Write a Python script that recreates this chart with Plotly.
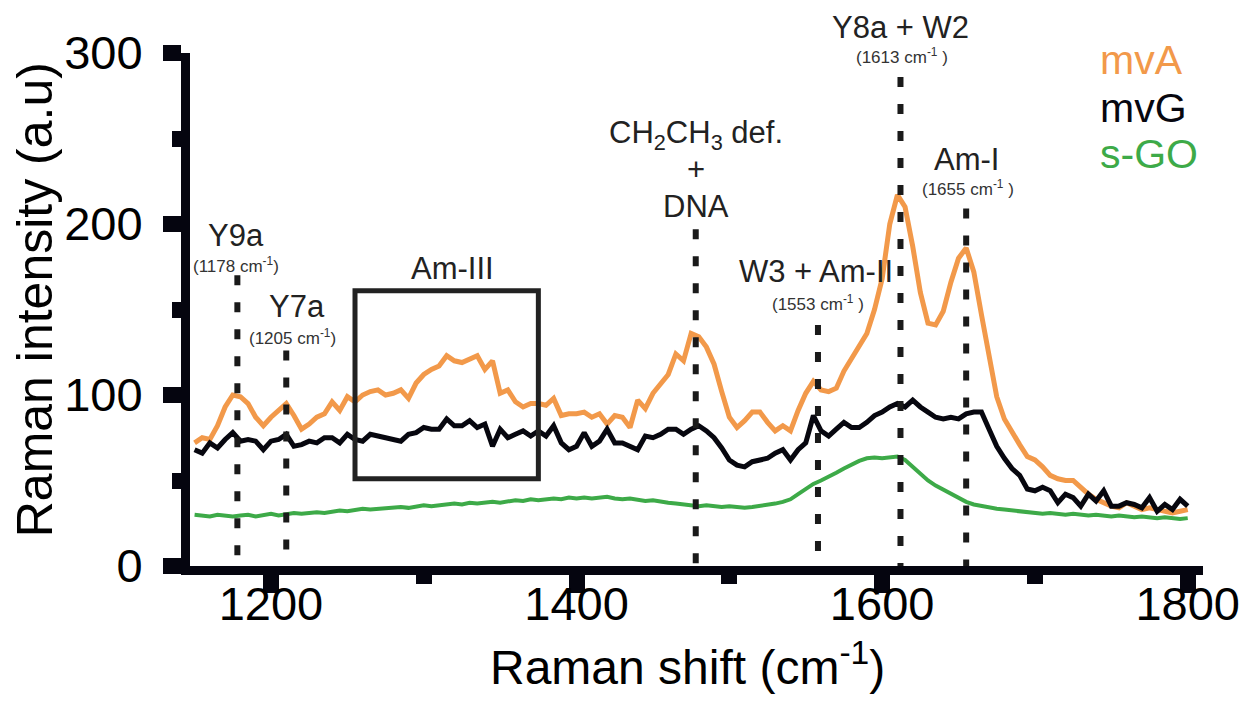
import plotly.graph_objects as go

# ---------------- data ----------------
shift = list(range(1150, 1801, 5))

mvA = [72, 75, 74, 82, 93, 100, 99, 95, 87, 82,
       87, 91, 95, 88, 80, 83, 87, 89, 96, 91,
       99, 96, 100, 102, 103, 100, 101, 103, 98, 107,
       112, 115, 117, 123, 120, 119, 121, 123, 115, 120,
       101, 103, 96, 93, 95, 95, 94, 98, 88, 89,
       89, 90, 87, 89, 83, 88, 87, 81, 97, 92,
       101, 106, 112, 124, 120, 136, 134, 128, 118, 102,
       87, 81, 85, 90, 90, 84, 79, 82, 79, 91,
       101, 108, 103, 102, 104, 114, 121, 128, 136, 150,
       168, 200, 217, 210, 187, 160, 142, 141, 149, 166,
       180, 186, 172, 147, 121, 99, 86, 78, 71, 64,
       62, 58, 53, 51, 50, 50, 46, 42, 39, 37,
       35, 34, 37, 35, 33, 34, 33, 32, 31, 32, 33]

mvG = [68, 66, 72, 69, 74, 78, 73, 74, 73, 68,
       73, 74, 77, 70, 71, 73, 72, 75, 75, 72,
       77, 74, 73, 77, 76, 75, 74, 73, 77, 78,
       81, 80, 80, 86, 82, 82, 85, 81, 83, 70,
       80, 75, 77, 79, 76, 79, 76, 82, 72, 68,
       70, 78, 70, 73, 80, 72, 72, 70, 68, 76,
       75, 77, 80, 80, 77, 80, 82, 79, 75, 69,
       62, 59, 58, 61, 62, 63, 66, 68, 62, 68,
       72, 88, 79, 76, 80, 84, 81, 81, 84, 88,
       90, 93, 95, 93, 97, 93, 90, 87, 86, 87,
       86, 89, 90, 90, 80, 70, 63, 57, 53, 45,
       44, 46, 44, 37, 42, 40, 35, 42, 38, 44,
       35, 35, 37, 36, 34, 40, 32, 36, 33, 39, 35]

sGO = [30, 29.5, 29, 30, 29.5, 29, 29.5, 30, 29, 29.5,
       30.5, 29.5, 30.5, 31, 30.5, 31, 31.5, 31, 32, 32.5,
       32, 33, 33.5, 33, 33.5, 34, 34, 34.5, 34, 35,
       35.5, 35, 35.5, 36, 36.5, 36, 37, 36.5, 37, 37.5,
       37, 38, 38.5, 38, 39, 38.5, 39, 39.5, 39, 40,
       39.5, 40, 39.5, 40, 40.5, 39.5, 39, 39.5, 38.5, 38,
       38.5, 37.5, 37, 36.5, 36, 35.5, 35, 35.5, 35, 34.5,
       35, 34.5, 34, 34.5, 35, 35.5, 36.5, 37.5, 39, 42,
       45, 48, 50, 52, 54.5, 57, 59.5, 61.5, 63, 63.5,
       63, 63.5, 64, 62, 58, 54, 50, 47, 44.5, 42,
       39.5, 37.5, 36, 35, 34, 33.5, 33, 32.5, 31.5, 31,
       31, 30.5, 31, 30.5, 30, 30.5, 30, 29.5, 30, 29.5,
       29, 29.5, 29, 28.5, 29, 28.5, 28, 28.5, 28, 27.5, 28]

series_names = ["mvA", "mvG", "s-GO"]
series_colors = ["#F2994A", "#07070F", "#3DAA48"]

# marker (dashed) lines: position and top of the dashed line
marker_pos = [1178, 1210, 1478, 1558, 1612, 1655]
marker_top = [170, 126, 197, 141, 286, 209]

# peak labels: text, x, y, and the wavenumber sub-label with its x, y
peak_labels = ["Y9a", "Y7a", "W3 + Am-II", "Y8a + W2", "Am-I"]
peak_label_x = [1177, 1217, 1557, 1612, 1655]
peak_label_y = [193, 152, 172, 315, 238]
peak_sub = ["(1178 cm<sup>-1</sup>)", "(1205 cm<sup>-1</sup>)", "(1553 cm<sup>-1</sup> )",
            "(1613 cm<sup>-1</sup> )", "(1655 cm<sup>-1</sup> )"]
peak_sub_x = [1177, 1214, 1558, 1613, 1656]
peak_sub_y = [176, 134, 154, 298, 221]

dna_lines = ["CH<sub>2</sub>CH<sub>3</sub> def.", "+", "DNA"]
dna_x = 1478
dna_y = [252, 232, 210]

box_x = [1255, 1375]
box_y = [51, 161]
box_label = "Am-III"
box_label_x = 1319
box_label_y = 174

legend_x = 1741
legend_y = [296, 268, 241]

x_range = [1147, 1810]
y_range = [0, 300]

FONT = "Liberation Sans, Arial, Helvetica, sans-serif"


def py(v):
    """intensity value -> paper fraction (so labels above the top stay visible)"""
    return (v - y_range[0]) / (y_range[1] - y_range[0])


fig = go.Figure()
for name, ys, col, w in zip(series_names, [mvA, mvG, sGO], series_colors, [5, 5, 4]):
    fig.add_trace(go.Scatter(x=shift, y=ys, mode="lines", name=name,
                             line=dict(color=col, width=w), showlegend=False))

for xp, top in zip(marker_pos, marker_top):
    fig.add_trace(go.Scatter(x=[xp, xp], y=[top, 0], mode="lines", showlegend=False,
                             cliponaxis=False,
                             line=dict(color="#1a1a1a", width=6, dash="10px,17px")))

fig.add_shape(type="rect", x0=box_x[0], x1=box_x[1], y0=box_y[0], y1=box_y[1],
              xref="x", yref="y", line=dict(color="#222222", width=5))

ann = []
for t, xx, yy, s, sx, sy in zip(peak_labels, peak_label_x, peak_label_y, peak_sub,
                                peak_sub_x, peak_sub_y):
    ann.append(dict(x=xx, y=py(yy), text=t, showarrow=False, xref="x", yref="paper",
                    xanchor="center", yanchor="middle",
                    font=dict(family=FONT, size=31, color="#222222")))
    ann.append(dict(x=sx, y=py(sy), text=s, showarrow=False, xref="x", yref="paper",
                    xanchor="center", yanchor="middle",
                    font=dict(family=FONT, size=17, color="#333333")))
for t, yy in zip(dna_lines, dna_y):
    ann.append(dict(x=dna_x, y=py(yy), text=t, showarrow=False, xref="x", yref="paper",
                    xanchor="center", yanchor="middle",
                    font=dict(family=FONT, size=31, color="#222222")))
ann.append(dict(x=box_label_x, y=py(box_label_y), text=box_label, showarrow=False,
                xref="x", yref="paper", xanchor="center", yanchor="middle",
                font=dict(family=FONT, size=31, color="#222222")))

# legend as coloured text
for name, col, yy in zip(series_names, series_colors, legend_y):
    ann.append(dict(x=legend_x, y=py(yy), text=name, showarrow=False, xref="x", yref="paper",
                    xanchor="left", yanchor="middle",
                    font=dict(family=FONT, size=41, color=col)))

# axis titles
ann.append(dict(x=-0.1530, y=0.518, xref="paper", yref="paper", text="Raman intensity (a.u)",
                textangle=-90, showarrow=False, xanchor="center", yanchor="middle",
                font=dict(family=FONT, size=50, color="black")))
ann.append(dict(x=0.491, y=-0.192, xref="paper", yref="paper", text="Raman shift (cm<sup>-1</sup>)",
                showarrow=False, xanchor="center", yanchor="middle",
                font=dict(family=FONT, size=48, color="black")))
fig.update_layout(annotations=ann)

fig.update_xaxes(range=x_range, showgrid=False, zeroline=False, automargin=False,
                 showline=True, linewidth=9, linecolor="#05050F",
                 ticks="outside", tick0=1200, dtick=200, ticklen=18, tickwidth=16,
                 tickcolor="#05050F", ticklabelstandoff=-29,
                 minor=dict(ticks="outside", tick0=1200, dtick=100, ticklen=9, tickwidth=16,
                            tickcolor="#05050F"),
                 tickfont=dict(family=FONT, size=47, color="black"))
fig.update_yaxes(range=y_range, showgrid=False, zeroline=False, automargin=False,
                 showline=True, linewidth=9, linecolor="#05050F",
                 ticks="outside", tickvals=[0, 100, 200, 300], ticklen=18, tickwidth=16,
                 tickcolor="#05050F", ticklabelstandoff=11,
                 minor=dict(ticks="outside", tickvals=[50, 150, 250], ticklen=9, tickwidth=16,
                            tickcolor="#05050F"),
                 tickfont=dict(family=FONT, size=47, color="black"))

# the page adds an 8px body margin, so the figure is 8px smaller than the window
fig.update_layout(width=1248, height=696, plot_bgcolor="white", paper_bgcolor="white",
                  margin=dict(l=182, r=53, t=45, b=138, autoexpand=False), showlegend=False,
                  font=dict(family=FONT))

fig.write_html("out.html")
